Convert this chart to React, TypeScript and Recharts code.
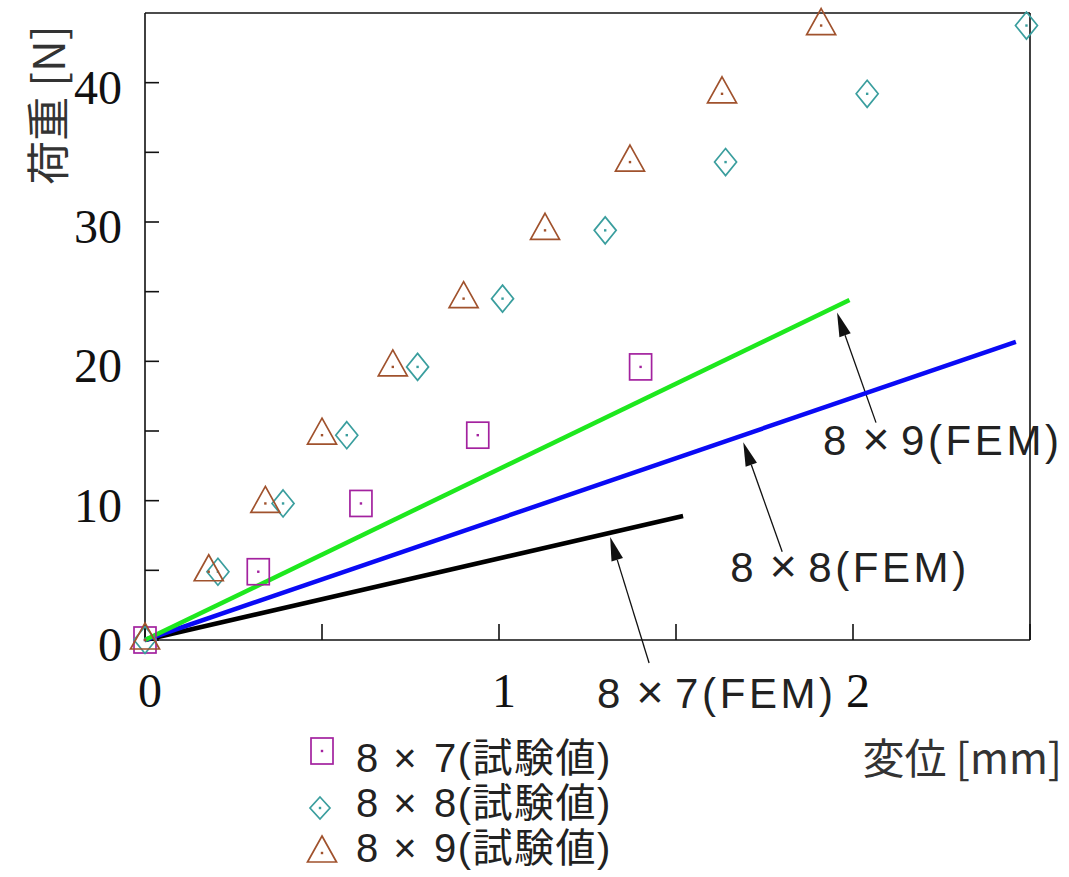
import React from 'react';
import { ScatterChart, Scatter, XAxis, YAxis, ReferenceLine, Legend } from 'recharts';

// load steps [N] shared by every test series
const LOADS = [0, 4.9, 9.8, 14.7, 19.6, 24.5, 29.4, 34.3, 39.2, 44.1];

// measured displacement [mm] per mesh size
const DISP_8X7 = [0, 0.32, 0.61, 0.94, 1.4];
const DISP_8X8 = [0, 0.206, 0.39, 0.57, 0.77, 1.01, 1.3, 1.64, 2.04, 2.49];
const DISP_8X9 = [0, 0.18, 0.34, 0.5, 0.7, 0.9, 1.13, 1.37, 1.63, 1.91];

// FEM results (linear, start and end point)
const FEM_DISP_8X7 = [0, 1.52];
const FEM_LOAD_8X7 = [0, 8.9];
const FEM_DISP_8X8 = [0, 2.46];
const FEM_LOAD_8X8 = [0, 21.4];
const FEM_DISP_8X9 = [0, 1.99];
const FEM_LOAD_8X9 = [0, 24.4];

const X_TICKS = [0, 0.5, 1, 1.5, 2, 2.5];
const Y_TICKS = [0, 5, 10, 15, 20, 25, 30, 35, 40];
const X_LABELS = [0, 1, 2];
const Y_LABELS = [0, 10, 20, 30, 40];

// mesh sizes, label text is "8 × n(...)"
const MESH_N = ['7', '8', '9'];

// arrow tip / tail in data units for the FEM callouts
const ARROW_TIP_X = [1.314, 1.69, 1.955];
const ARROW_TIP_Y = [7.4, 14.2, 23.5];
const ARROW_TAIL_X = [1.424, 1.8, 2.065];
const ARROW_TAIL_Y = [-1.65, 6.33, 15.6];

const PURPLE = '#a3229f';
const TEAL = '#3a9e9e';
const BROWN = '#a0522d';

const SANS = '"Liberation Sans", "Noto Sans CJK JP", Arial, sans-serif';
const SERIF = '"Liberation Serif", "DejaVu Serif", serif';
const CJK = '"Noto Sans CJK JP", "Liberation Sans", sans-serif';

const toPoints = (xs: number[], ys: number[]) => xs.map((x, i) => ({ x, y: ys[i] }));

const Dot = ({ cx, cy, color }: any) => (
  <rect x={cx - 1.2} y={cy - 1.2} width={2.4} height={2.4} fill={color} />
);

const SquareMark = ({ cx, cy, color = PURPLE }: any) => (
  <g>
    <rect x={cx - 11} y={cy - 13} width={22} height={26} fill="none" stroke={color} strokeWidth={1.7} />
    <Dot cx={cx} cy={cy} color={color} />
  </g>
);

const DiamondMark = ({ cx, cy, color = TEAL, w = 11, h = 13.5 }: any) => (
  <g>
    <polygon
      points={`${cx},${cy - h} ${cx + w},${cy} ${cx},${cy + h} ${cx - w},${cy}`}
      fill="none"
      stroke={color}
      strokeWidth={1.7}
    />
    <Dot cx={cx} cy={cy} color={color} />
  </g>
);

const TriangleMark = ({ cx, cy, color = BROWN }: any) => (
  <g>
    <polygon
      points={`${cx},${cy - 17} ${cx + 14.5},${cy + 9} ${cx - 14.5},${cy + 9}`}
      fill="none"
      stroke={color}
      strokeWidth={1.7}
    />
    <Dot cx={cx} cy={cy} color={color} />
  </g>
);

// "8 × n" with a spaced multiplication sign, then the tail text
const MeshLabel = ({ x, y, n, tail, size, crossSize, crossAt, tailAt, spacing }: any) => (
  <g fontFamily={SANS} fill="#222">
    <text x={x} y={y} fontSize={size}>8</text>
    <text x={x + crossAt} y={y} fontSize={crossSize} textAnchor="middle">
      ×
    </text>
    <text x={x + tailAt} y={y} fontSize={size} letterSpacing={spacing}>
      {n}
      {tail}
    </text>
  </g>
);

const XTick = ({ x, y, payload }: any) => {
  if (!X_LABELS.includes(payload.value)) return <g />;
  return (
    <text x={x + 5} y={y + 67} textAnchor="middle" fontFamily={SERIF} fontSize={48} fill="#111">
      {payload.value}
    </text>
  );
};

const YTick = ({ x, y, payload }: any) => {
  if (!Y_LABELS.includes(payload.value)) return <g />;
  return (
    <text x={x - 23} y={y + 21} textAnchor="end" fontFamily={SERIF} fontSize={48} fill="#111">
      {payload.value}
    </text>
  );
};

const YTitle = ({ viewBox }: any) => {
  const cx = viewBox.x - 39;
  const cy = viewBox.y + 92;
  return (
    <text
      x={cx}
      y={cy}
      transform={`rotate(-90, ${cx}, ${cy})`}
      textAnchor="middle"
      dominantBaseline="central"
      fontFamily={CJK}
      fontSize={44}
      fill="#333"
    >
      荷重 [N]
    </text>
  );
};

const XTitle = ({ viewBox }: any) => (
  <text
    x={viewBox.x + viewBox.width + 32}
    y={viewBox.y + 134}
    textAnchor="end"
    fontFamily={CJK}
    fontSize={42}
    fill="#333"
  >
    変位 [mm]
  </text>
);

// text offset from the arrow tail, in px
const CALLOUT_DX = [-52, -52, -53];
const CALLOUT_DY = [45, 30, 32];

const makeArrow = (i: number) => (p: any) => {
  const { x1, y1, x2, y2 } = p;
  const ang = Math.atan2(y2 - y1, x2 - x1);
  const len = 24;
  const half = 6;
  const bx = x2 - len * Math.cos(ang);
  const by = y2 - len * Math.sin(ang);
  const nx = -Math.sin(ang) * half;
  const ny = Math.cos(ang) * half;
  return (
    <g>
      <line x1={x1} y1={y1} x2={bx} y2={by} stroke="#111" strokeWidth={1.3} />
      <polygon points={`${x2},${y2} ${bx + nx},${by + ny} ${bx - nx},${by - ny}`} fill="#111" />
      <MeshLabel
        x={x1 + CALLOUT_DX[i]}
        y={y1 + CALLOUT_DY[i]}
        n={MESH_N[i]}
        tail="(FEM)"
        size={42}
        crossSize={47}
        crossAt={53}
        tailAt={78}
        spacing={3.6}
      />
    </g>
  );
};

const LegendBox = () => {
  const marks = [
    <SquareMark key="s" cx={22} cy={29} />,
    <DiamondMark key="d" cx={20} cy={86} w={10} h={11} />,
    <TriangleMark key="t" cx={22} cy={131} />,
  ];
  return (
    <svg width={340} height={150} style={{ overflow: 'visible' }}>
      {MESH_N.map((n, i) => (
        <g key={n}>
          {marks[i]}
          <MeshLabel
            x={56}
            y={50 + i * 45}
            n={n}
            tail="(試験値)"
            size={40}
            crossSize={40}
            crossAt={49}
            tailAt={78}
            spacing={1.5}
          />
        </g>
      ))}
    </svg>
  );
};

export default function App() {
  const data87 = toPoints(DISP_8X7, LOADS);
  const data88 = toPoints(DISP_8X8, LOADS);
  const data89 = toPoints(DISP_8X9, LOADS);

  return (
    <div style={{ position: 'absolute', left: 0, top: 0, background: '#fff' }}>
      <ScatterChart width={1068} height={875} margin={{ top: 12, right: 37, left: 85, bottom: 175 }}>
        <XAxis
          type="number"
          dataKey="x"
          domain={[0, 2.5]}
          ticks={X_TICKS}
          height={60}
          axisLine={{ stroke: '#111', strokeWidth: 1.6 }}
          tickLine={{ stroke: '#111', strokeWidth: 1.6 }}
          tickSize={-16}
          tickMargin={16}
          tick={<XTick />}
          interval={0}
          label={XTitle}
        />
        <XAxis
          xAxisId="top"
          orientation="top"
          type="number"
          domain={[0, 2.5]}
          ticks={X_TICKS}
          height={1}
          axisLine={{ stroke: '#111', strokeWidth: 1.6 }}
          tickLine={{ stroke: '#111', strokeWidth: 1.6 }}
          tickSize={-16}
          tick={false}
          interval={0}
        />
        <YAxis
          type="number"
          dataKey="y"
          domain={[0, 45]}
          ticks={Y_TICKS}
          width={60}
          axisLine={{ stroke: '#111', strokeWidth: 1.6 }}
          tickLine={{ stroke: '#111', strokeWidth: 1.6 }}
          tickSize={-14}
          tickMargin={14}
          tick={<YTick />}
          interval={0}
          label={YTitle}
        />
        <YAxis
          yAxisId="right"
          orientation="right"
          type="number"
          domain={[0, 45]}
          ticks={Y_TICKS}
          width={1}
          axisLine={{ stroke: '#111', strokeWidth: 1.6 }}
          tickLine={{ stroke: '#111', strokeWidth: 1.6 }}
          tickSize={-14}
          tick={false}
          interval={0}
        />

        <Scatter
          name="8×7(FEM)"
          data={toPoints(FEM_DISP_8X7, FEM_LOAD_8X7)}
          line={{ stroke: '#000', strokeWidth: 4.5 }}
          shape={() => <g />}
          legendType="none"
          isAnimationActive={false}
        />
        <Scatter
          name="8×8(FEM)"
          data={toPoints(FEM_DISP_8X8, FEM_LOAD_8X8)}
          line={{ stroke: '#0a0af5', strokeWidth: 4.5 }}
          shape={() => <g />}
          legendType="none"
          isAnimationActive={false}
        />
        <Scatter
          name="8×9(FEM)"
          data={toPoints(FEM_DISP_8X9, FEM_LOAD_8X9)}
          line={{ stroke: '#1ee81e', strokeWidth: 4.5 }}
          shape={() => <g />}
          legendType="none"
          isAnimationActive={false}
        />

        <Scatter name="8×7(試験値)" data={data87} shape={(p: any) => <SquareMark cx={p.cx} cy={p.cy} />} isAnimationActive={false} />
        <Scatter name="8×8(試験値)" data={data88} shape={(p: any) => <DiamondMark cx={p.cx} cy={p.cy} />} isAnimationActive={false} />
        <Scatter name="8×9(試験値)" data={data89} shape={(p: any) => <TriangleMark cx={p.cx} cy={p.cy} />} isAnimationActive={false} />

        {MESH_N.map((n, i) => (
          <ReferenceLine
            key={n}
            segment={[
              { x: ARROW_TAIL_X[i], y: ARROW_TAIL_Y[i] },
              { x: ARROW_TIP_X[i], y: ARROW_TIP_Y[i] },
            ]}
            ifOverflow="visible"
            shape={makeArrow(i)}
          />
        ))}

        <Legend
          layout="vertical"
          align="center"
          verticalAlign="middle"
          wrapperStyle={{ left: 300, top: 722, width: 340, height: 150 }}
          content={<LegendBox />}
        />
      </ScatterChart>
    </div>
  );
}
